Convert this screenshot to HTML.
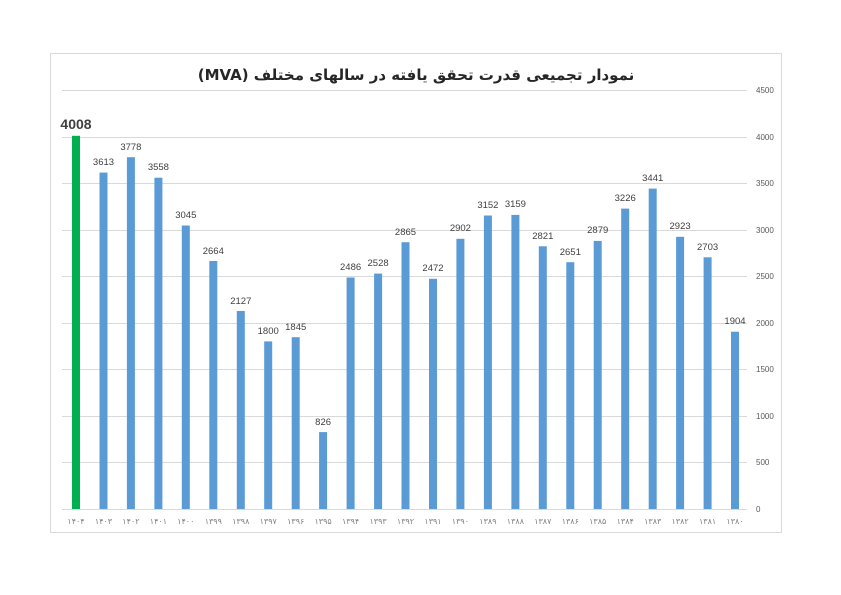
<!DOCTYPE html>
<html><head><meta charset="utf-8"><style>body{margin:0;background:#fff}svg{display:block}</style></head>
<body>
<svg width="841" height="595" viewBox="0 0 841 595" xmlns="http://www.w3.org/2000/svg" font-family="Liberation Sans, DejaVu Sans, sans-serif">
<rect x="50.5" y="53.5" width="731" height="479" fill="#fff" stroke="#d9d9d9"/>
<text x="416" y="80" text-anchor="middle" font-size="15" font-weight="bold" fill="#262626" font-family="DejaVu Sans, sans-serif" direction="rtl">نمودار تجمیعی قدرت تحقق یافته در سالهای مختلف (MVA)</text>
<g stroke="#d9d9d9" stroke-width="1">
<line x1="62" x2="747" y1="90.5" y2="90.5"/><line x1="62" x2="747" y1="137.5" y2="137.5"/><line x1="62" x2="747" y1="183.5" y2="183.5"/><line x1="62" x2="747" y1="230.5" y2="230.5"/><line x1="62" x2="747" y1="276.5" y2="276.5"/><line x1="62" x2="747" y1="323.5" y2="323.5"/><line x1="62" x2="747" y1="369.5" y2="369.5"/><line x1="62" x2="747" y1="416.5" y2="416.5"/><line x1="62" x2="747" y1="462.5" y2="462.5"/><line x1="62" x2="747" y1="509.5" y2="509.5"/>
</g>
<g font-size="8" fill="#595959">
<text x="756" y="93">4500</text><text x="756" y="140">4000</text><text x="756" y="186">3500</text><text x="756" y="233">3000</text><text x="756" y="279">2500</text><text x="756" y="326">2000</text><text x="756" y="372">1500</text><text x="756" y="419">1000</text><text x="756" y="465">500</text><text x="756" y="512">0</text>
</g>
<rect x="72" y="135.8" width="8" height="373.2" fill="#00b050"/>
<g fill="#5b9bd5">
<rect x="99.5" y="172.6" width="8" height="336.4"/>
<rect x="126.9" y="157.2" width="8" height="351.8"/>
<rect x="154.4" y="177.7" width="8" height="331.3"/>
<rect x="181.8" y="225.5" width="8" height="283.5"/>
<rect x="209.3" y="261" width="8" height="248"/>
<rect x="236.8" y="311" width="8" height="198"/>
<rect x="264.2" y="341.4" width="8" height="167.6"/>
<rect x="291.7" y="337.2" width="8" height="171.8"/>
<rect x="319.1" y="432.1" width="8" height="76.9"/>
<rect x="346.6" y="277.5" width="8" height="231.5"/>
<rect x="374.1" y="273.6" width="8" height="235.4"/>
<rect x="401.5" y="242.2" width="8" height="266.8"/>
<rect x="429" y="278.8" width="8" height="230.2"/>
<rect x="456.4" y="238.8" width="8" height="270.2"/>
<rect x="483.9" y="215.5" width="8" height="293.5"/>
<rect x="511.4" y="214.9" width="8" height="294.1"/>
<rect x="538.8" y="246.3" width="8" height="262.7"/>
<rect x="566.3" y="262.2" width="8" height="246.8"/>
<rect x="593.7" y="240.9" width="8" height="268.1"/>
<rect x="621.2" y="208.6" width="8" height="300.4"/>
<rect x="648.7" y="188.6" width="8" height="320.4"/>
<rect x="676.1" y="236.8" width="8" height="272.2"/>
<rect x="703.6" y="257.3" width="8" height="251.7"/>
<rect x="731" y="331.7" width="8" height="177.3"/>
</g>
<text x="76" y="129" text-anchor="middle" font-size="14" font-weight="bold" fill="#404040">4008</text>
<g font-size="9.5" fill="#404040" text-anchor="middle">
<text x="103.5" y="165">3613</text><text x="130.9" y="150">3778</text><text x="158.4" y="170">3558</text><text x="185.8" y="218">3045</text><text x="213.3" y="254">2664</text><text x="240.8" y="304">2127</text><text x="268.2" y="334">1800</text><text x="295.7" y="330">1845</text><text x="323.1" y="425">826</text><text x="350.6" y="270">2486</text><text x="378.1" y="266">2528</text><text x="405.5" y="235">2865</text><text x="433" y="271">2472</text><text x="460.4" y="231">2902</text><text x="487.9" y="208">3152</text><text x="515.4" y="207">3159</text><text x="542.8" y="239">2821</text><text x="570.3" y="255">2651</text><text x="597.7" y="233">2879</text><text x="625.2" y="201">3226</text><text x="652.7" y="181">3441</text><text x="680.1" y="229">2923</text><text x="707.6" y="250">2703</text><text x="735" y="324">1904</text>
</g>
<g font-size="8" fill="#7f7f7f" text-anchor="middle" font-family="DejaVu Sans, sans-serif">
<text x="76" y="524">۱۴۰۴</text><text x="103.5" y="524">۱۴۰۳</text><text x="130.9" y="524">۱۴۰۲</text><text x="158.4" y="524">۱۴۰۱</text><text x="185.8" y="524">۱۴۰۰</text><text x="213.3" y="524">۱۳۹۹</text><text x="240.8" y="524">۱۳۹۸</text><text x="268.2" y="524">۱۳۹۷</text><text x="295.7" y="524">۱۳۹۶</text><text x="323.1" y="524">۱۳۹۵</text><text x="350.6" y="524">۱۳۹۴</text><text x="378.1" y="524">۱۳۹۳</text><text x="405.5" y="524">۱۳۹۲</text><text x="433" y="524">۱۳۹۱</text><text x="460.4" y="524">۱۳۹۰</text><text x="487.9" y="524">۱۳۸۹</text><text x="515.4" y="524">۱۳۸۸</text><text x="542.8" y="524">۱۳۸۷</text><text x="570.3" y="524">۱۳۸۶</text><text x="597.7" y="524">۱۳۸۵</text><text x="625.2" y="524">۱۳۸۴</text><text x="652.7" y="524">۱۳۸۳</text><text x="680.1" y="524">۱۳۸۲</text><text x="707.6" y="524">۱۳۸۱</text><text x="735" y="524">۱۳۸۰</text>
</g>
</svg>
</body></html>
